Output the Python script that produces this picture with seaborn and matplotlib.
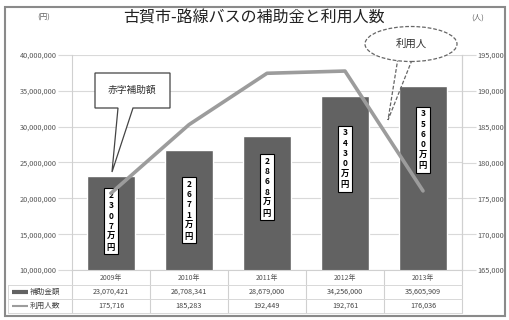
import matplotlib
matplotlib.use("Agg")
import matplotlib.pyplot as plt
import seaborn as sns
import numpy as np
import pandas as pd
from matplotlib.patches import Rectangle, Polygon, Ellipse
from matplotlib.lines import Line2D

sns.set_style("white")
plt.rcParams['font.family'] = ['Noto Sans CJK JP', 'DejaVu Sans']

# ---- data ----
years = ["2009年", "2010年", "2011年", "2012年", "2013年"]
subsidy = [23070421, 26708341, 28679000, 34256000, 35605909]
users = [175716, 185283, 192449, 192761, 176036]
bar_labels = ["2307万円", "2671万円", "2868万円", "3430万円", "3560万円"]
left_ticks = [10000000, 15000000, 20000000, 25000000, 30000000, 35000000, 40000000]
right_ticks = [165000, 170000, 175000, 180000, 185000, 190000, 195000]
title = "古賀市-路線バスの補助金と利用人数"
row_names = ["補助金額", "利用人数"]

W, H = 509, 320
fig = plt.figure(figsize=(W / 100, H / 100), dpi=100)

def fx(x):
    return x / W

def fy(y):
    return 1 - y / H

L, R, T, B = 72, 462, 55, 270
ax = fig.add_axes([fx(L), fy(B), fx(R) - fx(L), fy(T) - fy(B)])

df = pd.DataFrame({"year": years, "subsidy": subsidy, "users": users, "pos": range(len(years))})
sns.barplot(data=df, x="year", y="subsidy", ax=ax, color="#626262", saturation=1, width=0.61, zorder=2)
ax.set_ylim(left_ticks[0], left_ticks[-1])
ax.set_xlim(-0.5, len(years) - 0.5)
ax.set_yticks(left_ticks)
ax.set_yticklabels([f"{v:,}" for v in left_ticks], fontsize=5.3, color="#555555")
ax.set_xticks([])
ax.set_xlabel("")
ax.set_ylabel("")
ax.yaxis.grid(True, color="#d9d9d9", lw=0.8, zorder=0)
ax.set_axisbelow(True)
ax.tick_params(axis="y", length=10, color="#d9d9d9", pad=1)
ax.spines["top"].set_visible(False)
for s in ["left", "right", "bottom"]:
    ax.spines[s].set_color("#d0d0d0")
    ax.spines[s].set_linewidth(0.8)

ax2 = ax.twinx()
sns.lineplot(data=df, x="pos", y="users", ax=ax2, color="#9c9c9c", lw=2.6, zorder=3)
ax2.set_ylim(right_ticks[0], right_ticks[-1])
ax2.set_yticks(right_ticks)
ax2.set_yticklabels([f"{v:,}" for v in right_ticks], fontsize=5.3, color="#555555")
ax2.tick_params(axis="y", length=10, color="#d9d9d9", pad=1)
ax2.set_ylabel("")
ax2.set_xlabel("")
for s in ["top", "left", "bottom"]:
    ax2.spines[s].set_visible(False)
ax2.spines["right"].set_color("#d0d0d0")
ax2.set_xlim(-0.5, len(years) - 0.5)

# in-bar labels (vertical text)
fracs = [0.52, 0.5, 0.62, 0.64, 0.71]
for i, (lab, v) in enumerate(zip(bar_labels, subsidy)):
    yc = left_ticks[0] + (v - left_ticks[0]) * fracs[i]
    ax.text(i, yc, "\n".join(lab), ha="center", va="center", fontsize=6,
            linespacing=1.2, color="black", fontweight="bold", zorder=5,
            bbox=dict(boxstyle="square,pad=0.3", fc="white", ec="black", lw=0.8))

# title and units
fig.text(fx(254), fy(18), title, ha="center", va="center", fontsize=11.5, color="#222222")
fig.text(fx(44), fy(18), "(円)", ha="center", va="center", fontsize=5.5, color="#666666")
fig.text(fx(478), fy(18), "(人)", ha="center", va="center", fontsize=5.5, color="#666666")

# callout box for subsidy
poly = Polygon([[fx(95), fy(73)], [fx(170), fy(73)], [fx(170), fy(108)], [fx(133), fy(108)],
                [fx(112), fy(172)], [fx(118), fy(108)], [fx(95), fy(108)]],
               closed=True, transform=fig.transFigure, fc="white", ec="#444444", lw=0.9, zorder=10)
fig.add_artist(poly)
fig.text(fx(132), fy(90), "赤字補助額", ha="center", va="center", fontsize=7, color="#333333", zorder=11)

# ellipse callout for users
tail = Polygon([[fx(398), fy(58)], [fx(388), fy(120)], [fx(412), fy(60)]], closed=False,
               transform=fig.transFigure, fc="none", ec="#666666", lw=0.9, ls=(0, (3, 1.5)), zorder=10)
fig.add_artist(tail)
ell = Ellipse((fx(411), fy(44)), fx(92), 35 / H, transform=fig.transFigure,
              fc="white", ec="#666666", lw=0.9, ls=(0, (3, 1.5)), zorder=11)
fig.add_artist(ell)
fig.text(fx(411), fy(44), "利用人", ha="center", va="center", fontsize=7.5, color="#333333", zorder=12)

# data table below
row_y = [278, 292, 306]
cw = (R - L) / len(years)
for i, yr in enumerate(years):
    cx = L + cw * (i + 0.5)
    fig.text(fx(cx), fy(row_y[0]), yr, ha="center", va="center", fontsize=5, color="#555555")
    fig.text(fx(cx), fy(row_y[1]), f"{subsidy[i]:,}", ha="center", va="center", fontsize=5.2, color="#444444")
    fig.text(fx(cx), fy(row_y[2]), f"{users[i]:,}", ha="center", va="center", fontsize=5.2, color="#444444")
for k in range(len(years) + 1):
    x = L + cw * k
    fig.add_artist(Line2D([fx(x), fx(x)], [fy(270), fy(313)], transform=fig.transFigure,
                          color="#d0d0d0", lw=0.8))
for y in [285, 299, 313]:
    fig.add_artist(Line2D([fx(8), fx(R)], [fy(y), fy(y)], transform=fig.transFigure,
                          color="#d8d8d8", lw=0.7))
fig.add_artist(Line2D([fx(8), fx(8)], [fy(285), fy(313)], transform=fig.transFigure,
                      color="#d8d8d8", lw=0.7))
# legend keys in table header
fig.add_artist(Line2D([fx(12), fx(28)], [fy(row_y[1]), fy(row_y[1])], transform=fig.transFigure,
                      color="#626262", lw=3, solid_capstyle="butt"))
fig.add_artist(Line2D([fx(12), fx(28)], [fy(row_y[2]), fy(row_y[2])], transform=fig.transFigure,
                      color="#9c9c9c", lw=1.5, solid_capstyle="butt"))
fig.text(fx(30), fy(row_y[1]), row_names[0], ha="left", va="center", fontsize=5.5, color="#444444")
fig.text(fx(30), fy(row_y[2]), row_names[1], ha="left", va="center", fontsize=5.5, color="#444444")

# outer frame
fig.add_artist(Rectangle((fx(5), fy(316)), fx(500), (316 - 7) / H, transform=fig.transFigure,
                         fill=False, ec="#8a8a8a", lw=1.5))

fig.savefig("out.png", dpi=100)
